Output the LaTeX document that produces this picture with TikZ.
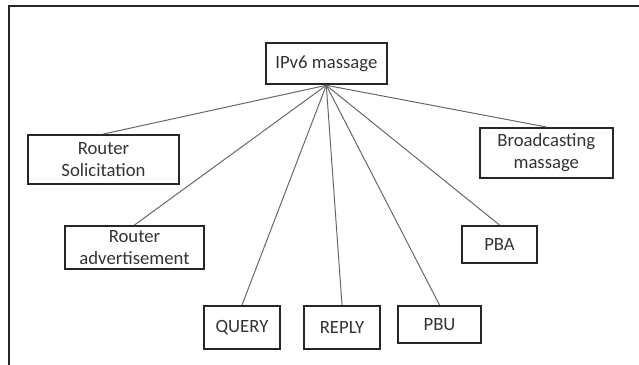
\documentclass[tikz,border=0pt]{standalone}
\usepackage{fontspec}
\setmainfont{Carlito}
\usepackage{tikz}
\usetikzlibrary{positioning}

\begin{document}
\begin{tikzpicture}[
  x=0.025cm, y=-0.025cm,
  font=\fontsize{13.3}{15.6}\selectfont,
  box/.style={draw=black!85, line width=1.4pt, inner sep=1pt, align=center, text=black!80},
  link/.style={draw=black!60, line width=0.7pt},
  frame/.style={draw=black!85, line width=1.8pt}
]
\useasboundingbox (0,0) rectangle (639,365);
\draw[frame] (9,365) -- (9,6) -- (639,6);
\node[box, minimum width=3.02cm, minimum height=1.04cm] (ipv6) at (326.3,63.5) {IPv6 massage};
\node[box, minimum width=3.775cm, minimum height=1.225cm] (rs) at (103.5,159.5) {Router\\Solicitation};
\node[box, minimum width=3.32cm, minimum height=1.25cm] (bm) at (546.3,153) {Broadcasting\\massage};
\node[box, minimum width=3.475cm, minimum height=1.075cm] (ra) at (134.5,247.5) {Router\\advertisement};
\node[box, minimum width=1.875cm, minimum height=0.925cm] (pba) at (499.5,244.5) {PBA};
\node[box, minimum width=1.9cm, minimum height=1.075cm] (query) at (242,327.5) {QUERY};
\node[box, minimum width=1.9cm, minimum height=1.075cm] (reply) at (342,327.5) {REPLY};
\node[box, minimum width=2.075cm, minimum height=0.925cm] (pbu) at (439.5,324.5) {PBU};
\foreach \n in {rs,ra,query,reply,pbu,pba,bm}
  \draw[link] (ipv6.south) -- (\n.north);
\end{tikzpicture}
\end{document}
